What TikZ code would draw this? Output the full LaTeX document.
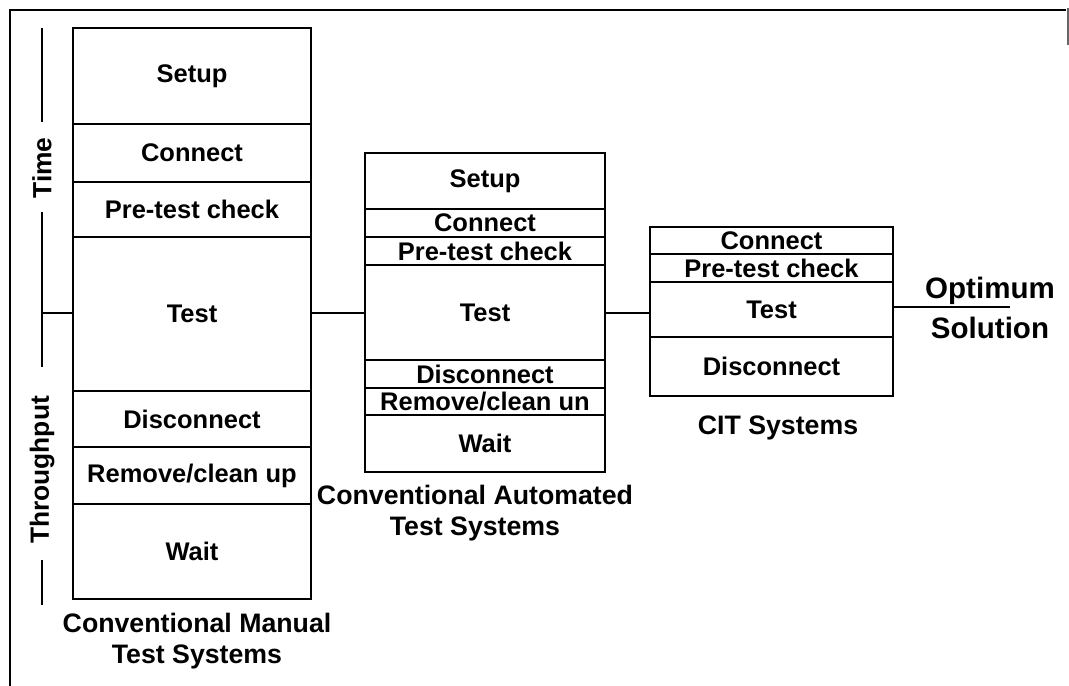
\documentclass[tikz,border=0pt]{standalone}
\usepackage{fontspec}
\setmainfont{Liberation Sans}
\usetikzlibrary{fit}
\begin{document}
\begin{tikzpicture}[x=0.02cm,y=-0.02cm,
  seg/.style={draw, line width=1.1pt, inner sep=0pt},
  segtext/.style={inner sep=0pt, font=\bfseries\fontsize{14.5}{17}\selectfont},
  caption/.style={align=center, font=\bfseries\fontsize{15.2}{17.5}\selectfont},
  link/.style={line width=1.1pt},
  frame/.style={line width=1.6pt},
  axislabel/.style={rotate=90, inner sep=0pt, font=\bfseries\fontsize{15}{18}\selectfont}]
\useasboundingbox (0,0) rectangle (1069,686);

% outer frame (open at the bottom)
\coordinate (f1) at (10,686);
\coordinate (f2) at (10,10);
\coordinate (f3) at (1066,10);
\coordinate (r1) at (1068,8);
\coordinate (r2) at (1068,45);
\draw[frame] (f1) -- (f2) -- (f3);
\draw[line width=1pt, black!60] (r1) -- (r2);

% time / throughput axis
\node[axislabel] (time) at (42,168) {Time};
\node[axislabel] (thr) at (42,470) {Throughput};
\coordinate (a1) at (42,28);
\coordinate (a2) at (42,122);
\coordinate (a3) at (42,212);
\coordinate (a4) at (42,367);
\coordinate (a5) at (42,560);
\coordinate (a6) at (42,605);
\coordinate (amid) at (42,313);
\draw[link] (a1) -- (a2);
\draw[link] (a3) -- (a4);
\draw[link] (a5) -- (a6);

% conventional manual test systems
\node[seg, fit={(73,28) (311,124)}, label={[segtext]center:Setup}] (m1) {};
\node[seg, fit={(73,124) (311,182)}, label={[segtext]center:Connect}] (m2) {};
\node[seg, fit={(73,182) (311,237)}, label={[segtext]center:Pre-test check}] (m3) {};
\node[seg, fit={(73,237) (311,391)}, label={[segtext]center:Test}] (m4) {};
\node[seg, fit={(73,391) (311,447)}, label={[segtext]center:Disconnect}] (m5) {};
\node[seg, fit={(73,447) (311,504)}, label={[segtext]center:Remove/clean up}] (m6) {};
\node[seg, fit={(73,504) (311,599)}, label={[segtext]center:Wait}] (m7) {};
\node[caption] (mcap) at (197,641) {Conventional Manual\\Test Systems};

% conventional automated test systems
\node[seg, fit={(365,153) (605,209)}, label={[segtext]center:Setup}] (c1) {};
\node[seg, fit={(365,209) (605,237)}, label={[segtext]center:Connect}] (c2) {};
\node[seg, fit={(365,237) (605,265)}, label={[segtext]center:Pre-test check}] (c3) {};
\node[seg, fit={(365,265) (605,360)}, label={[segtext]center:Test}] (c4) {};
\node[seg, fit={(365,360) (605,388)}, label={[segtext]center:Disconnect}] (c5) {};
\node[seg, fit={(365,388) (605,415)}, label={[segtext]center:Remove/clean un}] (c6) {};
\node[seg, fit={(365,415) (605,472)}, label={[segtext]center:Wait}] (c7) {};
\node[caption] (ccap) at (475,513) {Conventional Automated\\Test Systems};

% CIT systems
\node[seg, fit={(650,227) (893,254)}, label={[segtext]center:Connect}] (t1) {};
\node[seg, fit={(650,254) (893,282)}, label={[segtext]center:Pre-test check}] (t2) {};
\node[seg, fit={(650,282) (893,337)}, label={[segtext]center:Test}] (t3) {};
\node[seg, fit={(650,337) (893,396)}, label={[segtext]center:Disconnect}] (t4) {};
\node[caption] (tcap) at (778,428) {CIT Systems};

% optimum solution
\node[align=center, font=\bfseries\fontsize{16.8}{22.8}\selectfont] (opt) at (990,308) {Optimum\\Solution};
\coordinate (oend) at (1010,307);

% connectors
\draw[link] (amid) -- (amid -| m4.west);
\draw[link] (m4.east |- amid) -- (amid -| c4.west);
\draw[link] (c4.east |- amid) -- (amid -| t3.west);
\draw[link] (t3.east |- oend) -- (oend);
\end{tikzpicture}
\end{document}
